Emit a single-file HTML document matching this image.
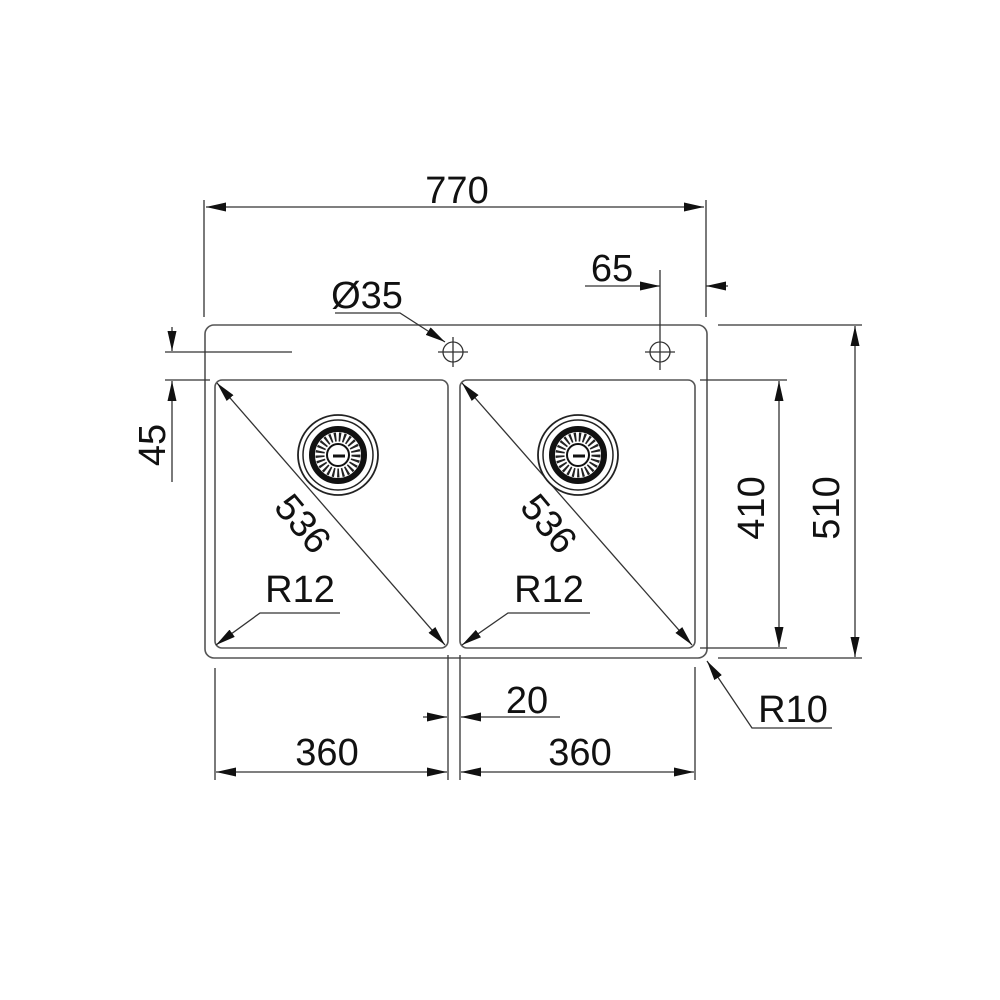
<!DOCTYPE html>
<html><head><meta charset="utf-8"><style>
html,body{margin:0;padding:0;background:#fff;}
svg{display:block;}
text{font-family:"Liberation Sans",Arial,sans-serif;font-size:38px;fill:#111;}
</style></head><body>
<svg width="1000" height="1000" viewBox="0 0 1000 1000" xmlns="http://www.w3.org/2000/svg">
<defs>
<marker id="a" viewBox="0 0 20 9" refX="20" refY="4.5" markerWidth="20" markerHeight="9" markerUnits="userSpaceOnUse" orient="auto-start-reverse">
<path d="M0,0 L20,4.5 L0,9 Z" fill="#111"/></marker>
</defs>
<g fill="none" stroke="#555" stroke-width="1.6">
<rect x="205" y="325" width="502" height="333" rx="9"/>
<rect x="215" y="380" width="233" height="268" rx="7"/>
<rect x="460" y="380" width="235" height="268" rx="7"/>
</g>
<g fill="none" stroke="#333" stroke-width="1.3">
<line x1="204" y1="200" x2="204" y2="317"/>
<line x1="706" y1="200" x2="706" y2="317"/>
<line x1="206" y1="207" x2="704" y2="207" marker-start="url(#a)" marker-end="url(#a)"/>
<line x1="585" y1="286" x2="660" y2="286" marker-end="url(#a)"/>
<line x1="728" y1="286" x2="706" y2="286" marker-end="url(#a)"/>
<line x1="660" y1="270" x2="660" y2="370"/>
<circle cx="453" cy="352" r="10"/>
<line x1="438" y1="352" x2="468" y2="352"/><line x1="453" y1="337" x2="453" y2="367"/>
<circle cx="660" cy="352" r="10"/>
<line x1="645" y1="352" x2="675" y2="352"/>
<path d="M335,313 L400,313 L445,342" marker-end="url(#a)"/>
<line x1="165" y1="352" x2="292" y2="352"/>
<line x1="165" y1="380" x2="210" y2="380"/>
<line x1="172" y1="327" x2="172" y2="351" marker-end="url(#a)"/>
<line x1="172" y1="482" x2="172" y2="381" marker-end="url(#a)"/>
<line x1="217" y1="383" x2="445" y2="645" marker-start="url(#a)" marker-end="url(#a)"/>
<line x1="462" y1="383" x2="692" y2="645" marker-start="url(#a)" marker-end="url(#a)"/>
<path d="M340,613 L260,613 L216,645" marker-end="url(#a)"/>
<path d="M590,613 L508,613 L462,645" marker-end="url(#a)"/>
<line x1="700" y1="380" x2="787" y2="380"/>
<line x1="700" y1="648" x2="787" y2="648"/>
<line x1="779" y1="381" x2="779" y2="647" marker-start="url(#a)" marker-end="url(#a)"/>
<line x1="718" y1="325" x2="862" y2="325"/>
<line x1="718" y1="658" x2="862" y2="658"/>
<line x1="855" y1="326" x2="855" y2="657" marker-start="url(#a)" marker-end="url(#a)"/>
<path d="M832,728 L752,728 L707,661" marker-end="url(#a)"/>
<line x1="448" y1="655" x2="448" y2="780"/>
<line x1="460" y1="655" x2="460" y2="780"/>
<line x1="423" y1="717" x2="447" y2="717" marker-end="url(#a)"/>
<line x1="560" y1="717" x2="461" y2="717" marker-end="url(#a)"/>
<line x1="215" y1="668" x2="215" y2="780"/>
<line x1="695" y1="667" x2="695" y2="780"/>
<line x1="216" y1="772" x2="447" y2="772" marker-start="url(#a)" marker-end="url(#a)"/>
<line x1="461" y1="772" x2="694" y2="772" marker-start="url(#a)" marker-end="url(#a)"/>
</g>
<g id="d">
<circle cx="338" cy="455" r="40" fill="#fff" stroke="#222" stroke-width="1.8"/>
<circle cx="338" cy="455" r="35" fill="none" stroke="#222" stroke-width="1.5"/>
<circle cx="338" cy="455" r="26" fill="none" stroke="#111" stroke-width="6"/>
<circle cx="338" cy="455" r="18" fill="none" stroke="#222" stroke-width="9" stroke-dasharray="2 2.5"/>
<circle cx="338" cy="455" r="11" fill="#fff" stroke="#111" stroke-width="2"/>
<line x1="333" y1="456" x2="345" y2="456" stroke="#111" stroke-width="3"/>
</g>
<use href="#d" transform="translate(240,0)"/>
<text x="457" y="203" text-anchor="middle">770</text>
<text x="612" y="281" text-anchor="middle">65</text>
<text x="367" y="308" text-anchor="middle">Ø35</text>
<text x="0" y="0" text-anchor="middle" transform="translate(165,445) rotate(-90)">45</text>
<text x="0" y="0" text-anchor="middle" transform="translate(293,532) rotate(50)">536</text>
<text x="0" y="0" text-anchor="middle" transform="translate(539,532) rotate(50)">536</text>
<text x="300" y="602" text-anchor="middle">R12</text>
<text x="549" y="602" text-anchor="middle">R12</text>
<text x="0" y="0" text-anchor="middle" transform="translate(764,508) rotate(-90)">410</text>
<text x="0" y="0" text-anchor="middle" transform="translate(839,508) rotate(-90)">510</text>
<text x="793" y="722" text-anchor="middle">R10</text>
<text x="527" y="713" text-anchor="middle">20</text>
<text x="327" y="765" text-anchor="middle">360</text>
<text x="580" y="765" text-anchor="middle">360</text>
</svg>
</body></html>
